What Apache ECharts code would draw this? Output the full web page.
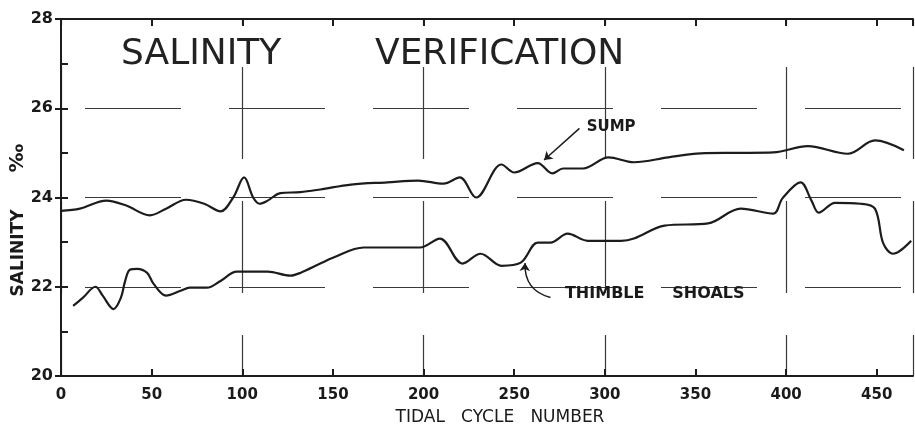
<!DOCTYPE html>
<html><head><meta charset="utf-8">
<script src="https://cdn.jsdelivr.net/npm/echarts@6/dist/echarts.min.js"></script>
<style>html,body{margin:0;padding:0;background:#fff}#c{width:915px;height:425px}</style>
</head><body><div id="c"></div>
<script>
// ---- data ----
const titleWords = ['SALINITY', 'VERIFICATION'];
const xName = 'TIDAL   CYCLE   NUMBER';
const yName = 'SALINITY';
const yUnit = '‰';
const seriesNames = ['SUMP', 'THIMBLE SHOALS'];

const sumpX = [0, 10.5, 25, 36, 49, 58, 69, 79, 88, 95, 101, 106, 109.5, 114, 121, 132, 143, 160, 180, 197, 211, 220, 229, 243, 250, 263, 271, 277, 288, 302, 316, 335, 353, 373, 393, 412, 434, 449, 465];
const sumpY = [23.7, 23.75, 23.93, 23.82, 23.6, 23.75, 23.95, 23.86, 23.69, 24.0, 24.45, 24.0, 23.86, 23.93, 24.1, 24.12, 24.18, 24.29, 24.34, 24.38, 24.31, 24.45, 24.0, 24.74, 24.56, 24.77, 24.54, 24.65, 24.65, 24.9, 24.79, 24.9, 24.99, 25.0, 25.01, 25.15, 24.98, 25.28, 25.06];

const shoalsX = [6.7, 12, 19, 23, 29, 33, 35.4, 38, 42, 47.5, 51, 58, 66, 71, 80.5, 88, 97, 114, 126.5, 132, 143, 150, 167, 198, 209, 221.5, 231.5, 243, 253.6, 263, 270, 279.5, 290.6, 309, 316, 333, 357, 375, 393, 398, 408, 414, 418, 427, 441, 449, 453.6, 459, 469];
const shoalsY = [21.57, 21.75, 22.0, 21.8, 21.5, 21.75, 22.13, 22.38, 22.4, 22.31, 22.07, 21.8, 21.91, 21.98, 21.98, 22.13, 22.34, 22.34, 22.25, 22.31, 22.52, 22.65, 22.88, 22.88, 23.08, 22.52, 22.74, 22.47, 22.54, 22.99, 22.99, 23.19, 23.03, 23.03, 23.08, 23.37, 23.42, 23.75, 23.64, 23.98, 24.34, 23.93, 23.66, 23.88, 23.86, 23.75, 22.97, 22.74, 23.03];

// ---- build ----
const ink = '#1c1c1c';
const font = 'DejaVu Sans';
const pair = (xs, ys) => xs.map((x, i) => [x, ys[i]]);
const gridDash = {color: '#3a3a3a', width: 1.2};

const chart = echarts.init(document.getElementById('c'), null, {renderer: 'canvas'});
chart.setOption({
  animation: false,
  backgroundColor: '#ffffff',
  title: [
    {text: titleWords[0], left: 116, top: 32, textStyle: {fontFamily: font, fontSize: 36, fontWeight: 'normal', color: '#222'}},
    {text: titleWords[1], left: 370, top: 32, textStyle: {fontFamily: font, fontSize: 36, fontWeight: 'normal', color: '#222'}}
  ],
  grid: {left: 61, right: 2, top: 19, bottom: 49, containLabel: false, outerBoundsMode: 'none'},
  xAxis: [
    {type: 'value', min: 0, max: 470, interval: 50, position: 'bottom',
     axisLine: {show: true, lineStyle: {color: ink, width: 2}},
     axisTick: {show: true, inside: true, length: 7, lineStyle: {color: ink, width: 2}},
     axisLabel: {showMaxLabel: false, margin: 12, fontFamily: font, fontSize: 15, fontWeight: 'bold', color: '#1a1a1a'},
     splitLine: {show: false},
     name: xName, nameLocation: 'middle', nameGap: 33,
     nameTextStyle: {fontFamily: font, fontSize: 17, color: '#1a1a1a', padding: [0, 0, 0, 26]}},
    {type: 'value', min: 0, max: 470, interval: 50, position: 'top',
     axisLine: {show: true, lineStyle: {color: ink, width: 2}},
     axisTick: {show: true, inside: true, length: 7, lineStyle: {color: ink, width: 2}},
     axisLabel: {show: false}, splitLine: {show: false}},
    {type: 'value', min: 0, max: 470, interval: 100, position: 'bottom',
     axisLine: {show: false}, axisTick: {show: false}, axisLabel: {show: false},
     splitLine: {show: true, lineStyle: Object.assign({type: [92, 42], dashOffset: 86}, gridDash)}}
  ],
  yAxis: [
    {type: 'value', min: 20, max: 28, interval: 2, position: 'left',
     axisLine: {show: true, lineStyle: {color: ink, width: 2}},
     axisTick: {show: true, inside: false, length: 6, lineStyle: {color: ink, width: 2}},
     axisLabel: {margin: 8, fontFamily: font, fontSize: 16, fontWeight: 'bold', color: '#1a1a1a'},
     splitLine: {show: true, lineStyle: Object.assign({type: [96, 48], dashOffset: 120}, gridDash)}},
    {type: 'value', min: 20, max: 28, interval: 1, position: 'left',
     axisLine: {show: false},
     axisTick: {show: true, inside: true, length: 7, lineStyle: {color: ink, width: 2}},
     axisLabel: {show: false}, splitLine: {show: false}},
    {type: 'value', min: 20, max: 28, interval: 2, position: 'right',
     axisLine: {show: true, lineStyle: {color: ink, width: 2}},
     axisTick: {show: false}, axisLabel: {show: false}, splitLine: {show: false}}
  ],
  graphic: [
    {type: 'text', x: 19, y: 253, rotation: Math.PI / 2,
     style: {text: yName, fontFamily: font, fontSize: 17, fontWeight: 'bold', fill: '#1a1a1a', align: 'center', verticalAlign: 'middle'}},
    {type: 'text', x: 18, y: 158, rotation: Math.PI / 2,
     style: {text: yUnit, fontFamily: font, fontSize: 20, fontWeight: 'bold', fill: '#1a1a1a', align: 'center', verticalAlign: 'middle'}}
  ],
  series: [
    {name: seriesNames[0], type: 'line', xAxisIndex: 0, yAxisIndex: 0,
     data: pair(sumpX, sumpY), smooth: 0.35, showSymbol: false, symbol: 'none',
     lineStyle: {color: ink, width: 2.2},
     markPoint: {silent: true, symbol: 'circle', symbolSize: 0,
       label: {show: true, position: 'right', distance: 0, formatter: seriesNames[0], fontFamily: font, fontSize: 15, fontWeight: 'bold', color: '#1a1a1a'},
       data: [{coord: [290, 25.57]}]}},
    {name: seriesNames[1], type: 'line', xAxisIndex: 0, yAxisIndex: 0,
     data: pair(shoalsX, shoalsY), smooth: 0.35, showSymbol: false, symbol: 'none',
     lineStyle: {color: ink, width: 2.2},
     markPoint: {silent: true, symbol: 'circle', symbolSize: 0,
       label: {show: true, position: 'right', distance: 0, formatter: 'THIMBLE     SHOALS', fontFamily: font, fontSize: 16, fontWeight: 'bold', color: '#1a1a1a'},
       data: [{coord: [278, 21.84]}]}},
    {type: 'lines', coordinateSystem: 'cartesian2d', xAxisIndex: 0, yAxisIndex: 0, silent: true,
     symbol: ['none', 'arrow'], symbolSize: 8,
     lineStyle: {color: ink, width: 1.5, opacity: 1, curveness: 0},
     data: [
       {coords: [[286, 25.55], [266.5, 24.84]], lineStyle: {curveness: 0}},
       {coords: [[270, 21.76], [256, 22.53]], lineStyle: {curveness: 0.4}}
     ]}
  ]
});
</script></body></html>
